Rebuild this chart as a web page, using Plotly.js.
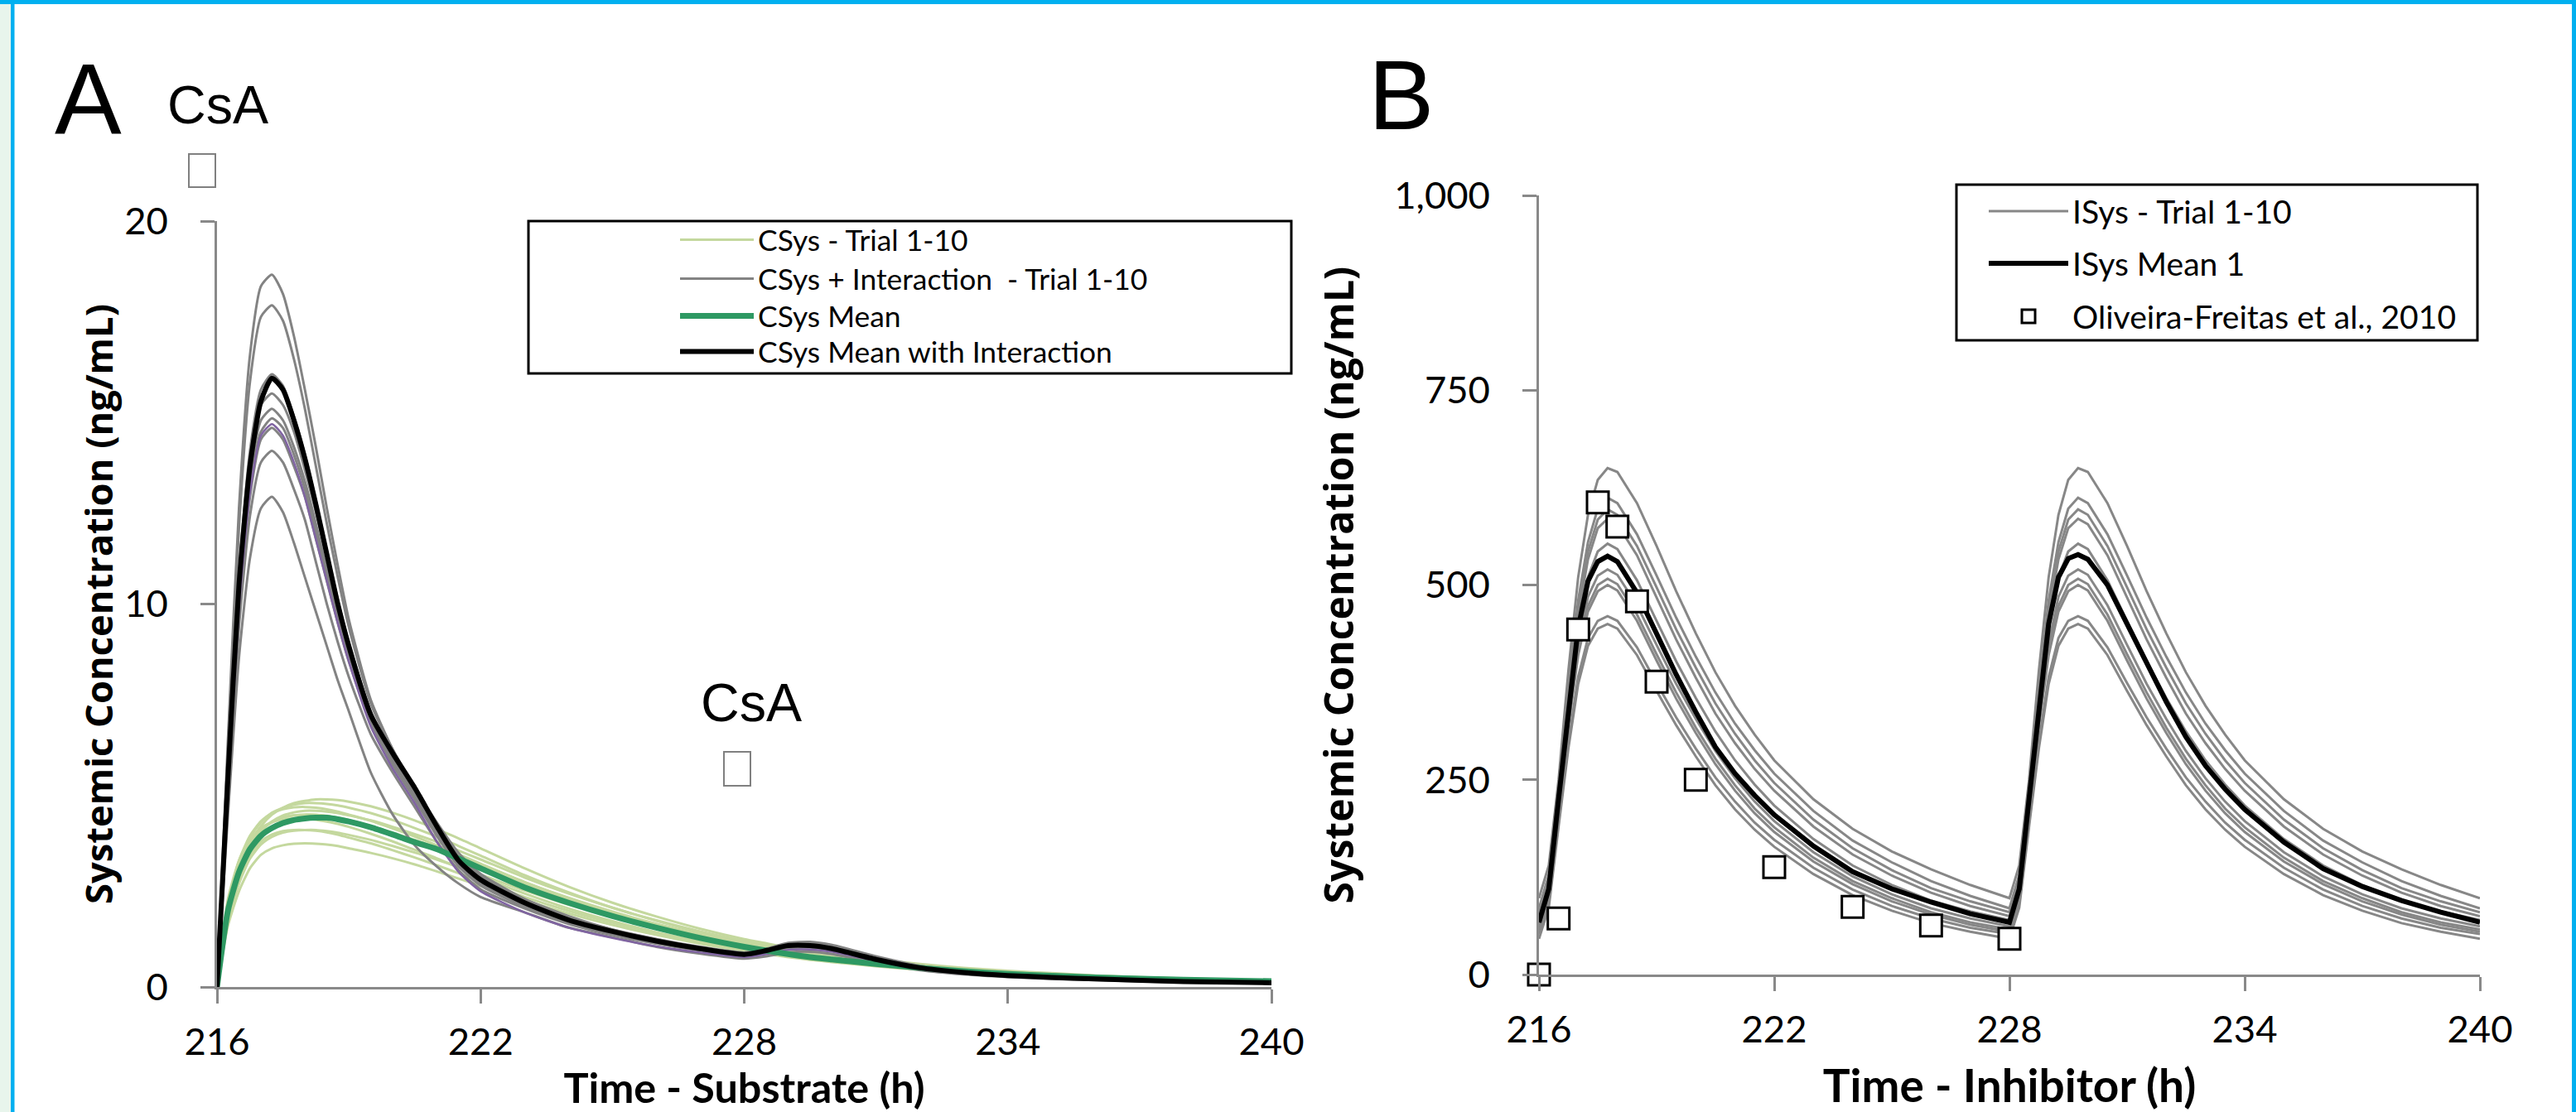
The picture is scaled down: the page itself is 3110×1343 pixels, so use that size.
<!DOCTYPE html>
<html><head><meta charset="utf-8">
<script src="https://cdn.plot.ly/plotly-3.0.1.min.js"></script>
<style>html,body{margin:0;padding:0;background:#fff;overflow:hidden}#chart{width:3110px;height:1343px}</style>
</head><body><div id="chart"></div>
<script>
// ---------------- Panel A data ----------------
const TIME_A = [216,216.25,216.5,216.75,217,217.25,217.5,217.75,218,218.25,218.5,218.75,219,219.5,220,220.5,221,221.5,222,223,224,225,226,227,228,228.5,229,229.5,230,231,232,233,234,235,236,238,240];
const X_TICKS = [216,222,228,234,240];
const Y_TICKS_A = [0,10,20];

const CSYS_TRIAL_1 = [0,1.9,3.0,3.75,4.2,4.5,4.68,4.8,4.86,4.9,4.9,4.88,4.84,4.72,4.55,4.35,4.12,3.88,3.62,3.1,2.62,2.2,1.84,1.52,1.25,1.14,1.03,0.94,0.86,0.72,0.6,0.5,0.42,0.36,0.3,0.22,0.17];
const CSYS_TRIAL_2 = [0,2.1,3.2,3.9,4.3,4.55,4.68,4.76,4.8,4.8,4.78,4.74,4.68,4.54,4.36,4.15,3.93,3.68,3.43,2.92,2.47,2.07,1.73,1.43,1.18,1.07,0.97,0.88,0.81,0.67,0.56,0.47,0.39,0.33,0.28,0.2,0.15];
const CSYS_TRIAL_3 = [0,2.2,3.3,3.95,4.33,4.54,4.64,4.69,4.7,4.68,4.64,4.58,4.5,4.34,4.14,3.93,3.7,3.46,3.22,2.74,2.32,1.95,1.63,1.35,1.11,1.01,0.92,0.84,0.77,0.64,0.53,0.44,0.37,0.31,0.26,0.19,0.14];
const CSYS_TRIAL_4 = [0,1.8,2.9,3.6,4.05,4.32,4.48,4.56,4.6,4.6,4.58,4.54,4.48,4.35,4.18,3.99,3.79,3.56,3.33,2.86,2.44,2.07,1.74,1.45,1.2,1.09,0.99,0.9,0.83,0.69,0.57,0.48,0.4,0.34,0.29,0.21,0.16];
const CSYS_TRIAL_5 = [0,2.0,3.05,3.7,4.1,4.3,4.42,4.48,4.5,4.5,4.47,4.42,4.36,4.2,4.02,3.82,3.62,3.38,3.14,2.68,2.27,1.91,1.6,1.33,1.1,1.0,0.91,0.83,0.76,0.63,0.52,0.43,0.36,0.3,0.26,0.19,0.14];
const CSYS_TRIAL_6 = [0,2.3,3.3,3.85,4.15,4.3,4.37,4.4,4.4,4.37,4.32,4.26,4.18,4.0,3.8,3.58,3.36,3.12,2.88,2.44,2.05,1.72,1.43,1.19,0.98,0.89,0.81,0.74,0.67,0.56,0.46,0.38,0.32,0.27,0.23,0.17,0.13];
const CSYS_TRIAL_7 = [0,1.7,2.7,3.35,3.72,3.92,4.03,4.08,4.1,4.1,4.07,4.03,3.97,3.84,3.68,3.51,3.33,3.13,2.93,2.52,2.15,1.82,1.53,1.28,1.07,0.97,0.88,0.8,0.73,0.61,0.5,0.42,0.35,0.3,0.25,0.18,0.14];
const CSYS_TRIAL_8 = [0,1.9,2.85,3.45,3.8,3.98,4.07,4.1,4.1,4.08,4.04,3.98,3.9,3.75,3.57,3.38,3.18,2.97,2.76,2.35,1.99,1.68,1.41,1.17,0.97,0.88,0.8,0.73,0.67,0.55,0.46,0.38,0.32,0.27,0.23,0.17,0.13];
const CSYS_TRIAL_9 = [0,1.6,2.5,3.1,3.45,3.62,3.7,3.74,3.75,3.74,3.72,3.68,3.62,3.5,3.36,3.2,3.02,2.83,2.64,2.26,1.92,1.62,1.36,1.13,0.94,0.86,0.78,0.71,0.65,0.54,0.45,0.37,0.31,0.26,0.22,0.16,0.12];
const CSYS_TRIAL_10 = [0,2.0,3.1,3.75,4.12,4.32,4.43,4.48,4.5,4.49,4.46,4.41,4.35,4.2,4.03,3.84,3.64,3.42,3.2,2.74,2.33,1.97,1.65,1.38,1.14,1.04,0.94,0.86,0.79,0.66,0.54,0.45,0.38,0.32,0.27,0.2,0.15];

const CSYS_INT_TRIAL_1 = [0,6.5,12.5,16.5,18.3,18.6,18.1,17.0,15.6,14.1,12.5,11.0,9.6,7.5,6.2,5.2,4.3,3.5,2.95,2.3,1.85,1.5,1.25,1.05,0.9,1.0,1.15,1.18,1.1,0.8,0.55,0.42,0.33,0.27,0.23,0.16,0.12];
const CSYS_INT_TRIAL_2 = [0,6.2,12.0,15.8,17.5,17.8,17.4,16.4,15.1,13.6,12.1,10.7,9.4,7.4,6.2,5.2,4.25,3.4,2.9,2.25,1.8,1.5,1.25,1.03,0.88,0.98,1.12,1.14,1.06,0.78,0.53,0.4,0.32,0.26,0.22,0.15,0.12];
const CSYS_INT_TRIAL_3 = [0,5.6,10.8,14.0,15.6,16.0,15.7,14.9,13.9,12.7,11.4,10.1,9.0,7.2,6.1,5.2,4.2,3.3,2.8,2.2,1.75,1.45,1.2,1.0,0.86,0.96,1.09,1.1,1.02,0.74,0.51,0.39,0.31,0.25,0.21,0.14,0.11];
const CSYS_INT_TRIAL_4 = [0,5.3,10.2,13.3,14.8,15.1,14.8,14.1,13.2,12.1,10.9,9.8,8.8,7.1,6.0,5.1,4.1,3.25,2.75,2.2,1.75,1.45,1.2,1.0,0.85,0.95,1.08,1.09,1.01,0.73,0.5,0.38,0.3,0.25,0.21,0.14,0.11];
const CSYS_INT_TRIAL_5 = [0,5.2,10.0,13.0,14.5,14.85,14.6,13.9,13.0,11.9,10.8,9.7,8.7,7.0,5.9,5.0,4.0,3.2,2.7,2.15,1.72,1.42,1.18,0.98,0.84,0.93,1.06,1.07,0.99,0.72,0.5,0.38,0.3,0.25,0.2,0.14,0.11];
const CSYS_INT_TRIAL_6 = [0,5.1,9.8,12.8,14.3,14.6,14.3,13.6,12.8,11.7,10.6,9.5,8.5,6.9,5.8,4.9,3.95,3.15,2.65,2.1,1.7,1.4,1.16,0.97,0.83,0.92,1.04,1.05,0.98,0.71,0.49,0.37,0.29,0.24,0.2,0.13,0.1];
const CSYS_INT_TRIAL_7 = [0,4.9,9.4,12.3,13.7,14.0,13.7,13.0,12.2,11.1,10.0,9.0,8.1,6.6,5.6,4.7,3.8,3.05,2.55,2.05,1.65,1.36,1.13,0.95,0.81,0.9,1.02,1.03,0.96,0.7,0.48,0.36,0.28,0.23,0.19,0.13,0.1];
const CSYS_INT_TRIAL_8 = [0,4.5,8.6,11.2,12.5,12.8,12.4,11.6,10.7,9.8,8.9,8.0,7.2,5.6,4.5,3.7,3.15,2.7,2.35,1.95,1.55,1.3,1.05,0.87,0.74,0.8,0.9,0.92,0.86,0.63,0.44,0.33,0.26,0.21,0.18,0.12,0.09];
const CSYS_INT_TRIAL_9 = [0,5.4,10.4,13.6,15.2,15.5,15.2,14.5,13.5,12.4,11.2,10.0,8.9,7.1,6.0,5.1,4.1,3.25,2.75,2.2,1.75,1.45,1.2,1.0,0.85,0.95,1.08,1.09,1.01,0.73,0.5,0.38,0.3,0.25,0.21,0.14,0.11];
const CSYS_INT_TRIAL_10 = [0,5.1,9.9,12.9,14.4,14.7,14.4,13.7,12.8,11.7,10.6,9.5,8.5,6.8,5.7,4.8,3.8,3.0,2.5,1.95,1.55,1.28,1.06,0.9,0.78,0.86,0.97,0.98,0.92,0.68,0.47,0.35,0.27,0.22,0.19,0.13,0.1];

const CSYS_MEAN = [0,2.0,3.0,3.6,3.95,4.15,4.28,4.36,4.4,4.42,4.42,4.38,4.32,4.17,3.98,3.78,3.6,3.35,3.1,2.6,2.2,1.85,1.55,1.28,1.05,0.95,0.86,0.78,0.72,0.6,0.5,0.41,0.34,0.29,0.25,0.19,0.15];
const CSYS_MEAN_INT = [0,5.5,10.5,13.6,15.3,15.9,15.6,14.8,13.8,12.6,11.3,10.0,8.9,7.1,6.1,5.2,4.2,3.3,2.8,2.2,1.75,1.45,1.2,1.0,0.85,0.95,1.08,1.08,1.0,0.72,0.5,0.38,0.3,0.25,0.21,0.14,0.11];

// ---------------- Panel B data ----------------
const TIME_B = [216,216.25,216.5,216.75,217,217.25,217.5,217.75,218,218.5,219,219.5,220,220.5,221,221.5,222,223,224,225,226,227,228,228.25,228.5,228.75,229,229.25,229.5,229.75,230,230.5,231,231.5,232,232.5,233,233.5,234,235,236,237,238,239,240];
const Y_TICKS_B = [0,250,500,750,1000];

const ISYS_TRIAL_1 = [98,140,250,390,510,590,635,650,645,605,550,492,438,388,345,308,275,225,187,158,135,115,98,140,250,390,510,590,635,650,645,605,550,492,438,388,345,308,275,225,187,158,135,115,98];
const ISYS_TRIAL_2 = [85,128,240,370,480,555,598,612,605,565,512,458,408,362,322,288,258,210,172,144,120,101,85,128,240,370,480,555,598,612,605,565,512,458,408,362,322,288,258,210,172,144,120,101,85];
const ISYS_TRIAL_3 = [80,122,235,362,470,543,584,597,590,550,497,443,394,348,309,275,246,199,162,134,111,94,80,122,235,362,470,543,584,597,590,550,497,443,394,348,309,275,246,199,162,134,111,94,80];
const ISYS_TRIAL_4 = [75,118,232,357,462,533,573,585,578,538,484,430,381,335,297,264,236,190,154,127,105,88,75,118,232,357,462,533,573,585,578,538,484,430,381,335,297,264,236,190,154,127,105,88,75];
const ISYS_TRIAL_5 = [70,112,225,345,445,510,543,553,546,506,454,402,355,312,275,244,217,174,140,115,95,81,70,112,225,345,445,510,543,553,546,506,454,402,355,312,275,244,217,174,140,115,95,81,70];
const ISYS_TRIAL_6 = [62,104,215,330,425,485,512,520,513,474,423,373,328,287,252,222,197,157,126,103,85,72,62,104,215,330,425,485,512,520,513,474,423,373,328,287,252,222,197,157,126,103,85,72,62];
const ISYS_TRIAL_7 = [58,100,210,322,415,473,500,508,501,462,411,362,317,277,243,213,189,150,120,98,80,67,58,100,210,322,415,473,500,508,501,462,411,362,317,277,243,213,189,150,120,98,80,67,58];
const ISYS_TRIAL_8 = [55,97,207,318,410,466,492,500,493,454,403,354,310,270,236,207,183,145,116,94,77,64,55,97,207,318,410,466,492,500,493,454,403,354,310,270,236,207,183,145,116,94,77,64,55];
const ISYS_TRIAL_9 = [52,92,195,298,382,432,454,460,454,420,374,330,290,253,222,195,173,137,109,88,72,60,52,92,195,298,382,432,454,460,454,420,374,330,290,253,222,195,173,137,109,88,72,60,52];
const ISYS_TRIAL_10 = [46,86,190,290,373,422,444,450,444,410,364,320,280,243,212,186,164,129,102,82,66,55,46,86,190,290,373,422,444,450,444,410,364,320,280,243,212,186,164,129,102,82,66,55,46];
const ISYS_MEAN = [67,110,225,340,445,505,530,537,530,490,438,385,337,292,258,230,205,165,132,110,93,78,67,110,225,345,450,510,534,539,533,500,450,398,350,305,268,238,212,170,136,113,95,80,67];

const OBS_TIME = [216,216.5,217,217.5,218,218.5,219,220,222,224,226,228];
const OBS_CONC = [0,72,443,606,575,479,376,250,138,87,63,46];

// ---------------- helpers ----------------
const W = 3110, H = 1343;
const px = x => x / W;
const py = y => 1 - y / H;
const AXC = '#898989';
const LATO = 'Lato, Roboto, sans-serif';
const OPEN = '"Open Sans", "Noto Sans", sans-serif';
const ARIAL = '"Liberation Sans", Arial, sans-serif';

// font size that makes a text reach a measured width in the reference (layout only)
const ctx = document.createElement('canvas').getContext('2d');
function fitSize(text, family, weight, width) {
  ctx.font = weight + ' 100px ' + family;
  return Math.round(1000 * width / ctx.measureText(text).width) / 10;
}

const TICK_SIZE = fitSize('216', LATO, 400, 79);
const TICKFONT = {family: LATO, size: TICK_SIZE, color: '#000'};
const YTITLE_A = 'Systemic Concentration (ng/mL)';
const YT_A_SIZE = fitSize(YTITLE_A, OPEN, 700, 725);
const YT_B_SIZE = fitSize(YTITLE_A, OPEN, 700, 770);
const XT_A = 'Time - Substrate (h)', XT_B = 'Time - Inhibitor (h)';
const XT_A_SIZE = fitSize(XT_A, LATO, 700, 436);
const XT_B_SIZE = fitSize(XT_B, LATO, 700, 452);
const LEG_A_NAMES = ['CSys - Trial 1-10', 'CSys + Interaction\u00a0 - Trial 1-10', 'CSys Mean', 'CSys Mean with Interaction'];
const LEG_B_NAMES = ['ISys - Trial 1-10', 'ISys Mean 1', 'Oliveira-Freitas et al., 2010'];
const LEG_A_SIZE = fitSize(LEG_A_NAMES[1], LATO, 400, 472);
const LEG_B_SIZE = fitSize(LEG_B_NAMES[2], LATO, 400, 463);
const CSA_SIZE = fitSize('CsA', ARIAL, 400, 122);

const csysTrials = [CSYS_TRIAL_1,CSYS_TRIAL_2,CSYS_TRIAL_3,CSYS_TRIAL_4,CSYS_TRIAL_5,CSYS_TRIAL_6,CSYS_TRIAL_7,CSYS_TRIAL_8,CSYS_TRIAL_9,CSYS_TRIAL_10];
const csysIntTrials = [CSYS_INT_TRIAL_1,CSYS_INT_TRIAL_2,CSYS_INT_TRIAL_3,CSYS_INT_TRIAL_4,CSYS_INT_TRIAL_5,CSYS_INT_TRIAL_6,CSYS_INT_TRIAL_7,CSYS_INT_TRIAL_8,CSYS_INT_TRIAL_9,CSYS_INT_TRIAL_10];
const isysTrials = [ISYS_TRIAL_1,ISYS_TRIAL_2,ISYS_TRIAL_3,ISYS_TRIAL_4,ISYS_TRIAL_5,ISYS_TRIAL_6,ISYS_TRIAL_7,ISYS_TRIAL_8,ISYS_TRIAL_9,ISYS_TRIAL_10];

const SPL = {shape: 'spline', smoothing: 0.6};
const traces = [];
csysTrials.forEach((v, i) => traces.push({
  x: TIME_A, y: v, type: 'scatter', mode: 'lines', xaxis: 'x', yaxis: 'y',
  name: LEG_A_NAMES[0], legendgroup: 'a1', showlegend: i === 0, legend: 'legend',
  line: Object.assign({color: '#c4d89e', width: 3}, SPL)
}));
csysIntTrials.forEach((v, i) => traces.push({
  x: TIME_A, y: v, type: 'scatter', mode: 'lines', xaxis: 'x', yaxis: 'y',
  name: LEG_A_NAMES[1], legendgroup: 'a2', showlegend: i === 0, legend: 'legend3',
  line: Object.assign({color: i === 9 ? '#8064a2' : '#838383', width: i === 9 ? 2.5 : 3}, SPL)
}));
traces.push({x: TIME_A, y: CSYS_MEAN, type: 'scatter', mode: 'lines', xaxis: 'x', yaxis: 'y',
  name: LEG_A_NAMES[2], legendgroup: 'a3', legend: 'legend4', line: Object.assign({color: '#2e9963', width: 7}, SPL)});
traces.push({x: TIME_A, y: CSYS_MEAN_INT, type: 'scatter', mode: 'lines', xaxis: 'x', yaxis: 'y',
  name: LEG_A_NAMES[3], legendgroup: 'a4', legend: 'legend5', line: Object.assign({color: '#000', width: 6}, SPL)});

isysTrials.forEach((v, i) => traces.push({
  x: TIME_B, y: v, type: 'scatter', mode: 'lines', xaxis: 'x2', yaxis: 'y2',
  name: LEG_B_NAMES[0], legendgroup: 'b1', showlegend: i === 0, legend: 'legend2',
  line: {color: '#878787', width: 3}
}));
traces.push({x: TIME_B, y: ISYS_MEAN, type: 'scatter', mode: 'lines', xaxis: 'x2', yaxis: 'y2',
  name: LEG_B_NAMES[1], legendgroup: 'b2', legend: 'legend6', line: {color: '#000', width: 6}});
traces.push({x: OBS_TIME, y: OBS_CONC, type: 'scatter', mode: 'markers', xaxis: 'x2', yaxis: 'y2',
  name: LEG_B_NAMES[2], legendgroup: 'b3', legend: 'legend7', cliponaxis: false,
  marker: {symbol: 'square', size: 26, color: '#fff', line: {color: '#000', width: 3}}});

function xAxis(domain, anchor, title, size, standoff) {
  return {domain, anchor, range: [216, 240], tickvals: X_TICKS, ticktext: X_TICKS.map(String),
    ticks: 'outside', ticklen: 17, tickwidth: 3, tickcolor: AXC, showline: true, linecolor: AXC, linewidth: 3,
    showgrid: false, zeroline: false, tickfont: TICKFONT, ticklabelstandoff: 8, automargin: false,
    title: {text: title, standoff, font: {family: LATO, size, weight: 700, color: '#000'}}};
}
function xOverlay(over, anchor) {
  return {overlaying: over, anchor, range: [216, 240], tickvals: X_TICKS, ticks: 'inside', ticklen: 16,
    tickwidth: 3, tickcolor: AXC, showticklabels: false, showline: false, showgrid: false, zeroline: false, side: 'bottom'};
}
function yAxis(domain, anchor, range, tickvals, fmt, size, standoff) {
  return {domain, anchor, range, tickvals, tickformat: fmt, ticks: 'outside', ticklen: 17, tickwidth: 3, tickcolor: AXC,
    showline: true, linecolor: AXC, linewidth: 3, showgrid: false, zeroline: false, tickfont: TICKFONT,
    ticklabelstandoff: 30, automargin: false,
    title: {text: YTITLE_A, standoff, font: {family: OPEN, size, weight: 700, color: '#000'}}};
}

const rect = (x0, y0, x1, y1, fill, lineColor, lw) => ({type: 'rect', xref: 'paper', yref: 'paper',
  x0: px(x0), x1: px(x1), y0: py(y1), y1: py(y0), fillcolor: fill, line: {color: lineColor || 'rgba(0,0,0,0)', width: lw || 0}});

const ann = (text, x, y, size) => ({text, xref: 'paper', yref: 'paper', x: px(x), y: py(y), xanchor: 'left', yanchor: 'middle',
  showarrow: false, font: {family: ARIAL, size, color: '#000'}});

const legendAt = (x, yc, size, itemwidth) => ({x: px(x), y: py(yc), xanchor: 'left', yanchor: 'middle',
  bgcolor: 'rgba(0,0,0,0)', borderwidth: 0, font: {family: LATO, size, color: '#000'}, itemwidth, tracegroupgap: 0});

const layout = {
  width: W, height: H, margin: {l: 0, r: 0, t: 0, b: 0}, paper_bgcolor: '#fff', plot_bgcolor: 'rgba(0,0,0,0)',
  showlegend: true, hovermode: false,
  xaxis: xAxis([px(262), px(1535)], 'y', XT_A, XT_A_SIZE, 30),
  yaxis: yAxis([py(1192), py(267)], 'x', [0, 20], Y_TICKS_A, 'd', YT_A_SIZE, 0),
  xaxis2: xAxis([px(1858), px(2994)], 'y2', XT_B, XT_B_SIZE, 60),
  yaxis2: yAxis([py(1177), py(236)], 'x2', [0, 1000], Y_TICKS_B, ',d', YT_B_SIZE, 34),
  xaxis3: xOverlay('x', 'y'),
  xaxis4: xOverlay('x2', 'y2'),
  legend: legendAt(816, 290, LEG_A_SIZE, 89),
  legend3: legendAt(816, 337, LEG_A_SIZE, 89),
  legend4: legendAt(816, 382, LEG_A_SIZE, 89),
  legend5: legendAt(816, 425, LEG_A_SIZE, 89),
  legend2: legendAt(2396, 255, LEG_B_SIZE, 96),
  legend6: legendAt(2396, 318, LEG_B_SIZE, 96),
  legend7: legendAt(2396, 382, LEG_B_SIZE, 96),
  shapes: [
    rect(0, 0, 13, H, '#e8f5ec'),
    rect(13, 0, 17.5, H, '#00b0f0'),
    rect(0, 0, W, 5, '#00b0f0'),
    rect(3105, 0, W, H, '#00b0f0'),
    rect(638, 267, 1559, 451, 'rgba(0,0,0,0)', '#000', 3),
    rect(2362, 223, 2991, 411, 'rgba(0,0,0,0)', '#000', 3),
    rect(228, 186, 260, 226, '#fff', '#808080', 2),
    rect(874, 908, 906, 949, '#fff', '#808080', 2)
  ],
  annotations: [
    ann('A', 64, 119, 121),
    ann('B', 1650, 115, 119),
    ann('CsA', 200, 127, CSA_SIZE),
    ann('CsA', 844, 849, CSA_SIZE)
  ]
};

Plotly.newPlot('chart', traces, layout, {staticPlot: true, displayModeBar: false});
</script></body></html>
